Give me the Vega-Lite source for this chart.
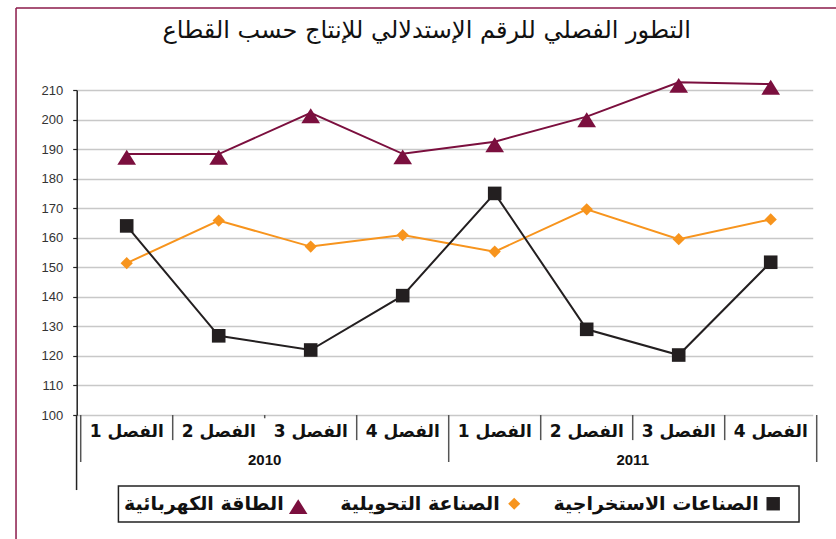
{
  "$schema": "https://vega.github.io/schema/vega-lite/v6.json",
  "width": 736,
  "height": 325,
  "autosize": {"type": "none"},
  "padding": {"left": 80.7, "top": 90, "right": 19.3, "bottom": 124},
  "background": "white",
  "title": {
    "text": "التطور الفصلي للرقم الإستدلالي للإنتاج حسب القطاع",
    "font": "DejaVu Sans",
    "fontSize": 24,
    "fontWeight": "normal",
    "color": "#111111",
    "anchor": "middle",
    "dx": -22,
    "offset": -36
  },
  "config": {
    "view": {"stroke": null},
    "axisY": {
      "domain": true,
      "domainColor": "#222222",
      "domainWidth": 1.5,
      "tickColor": "#222222",
      "tickSize": 4,
      "tickWidth": 1.2,
      "labelFont": "Liberation Sans",
      "labelFontSize": 13,
      "labelColor": "#333333",
      "labelPadding": 10,
      "gridColor": "#c8c8c8",
      "gridWidth": 1.5,
      "offset": 4
    },
    "axisX": {
      "domain": false,
      "ticks": false,
      "grid": false,
      "labelFont": "DejaVu Sans",
      "labelFontSize": 17,
      "labelFontWeight": "bold",
      "labelColor": "#111111",
      "labelPadding": 8,
      "labelAngle": 0
    }
  },
  "data": {
    "values": [
      {"period": "2010-1", "year": "2010", "quarter": "1", "series": "الطاقة الكهربائية", "value": 188.3},
      {"period": "2010-2", "year": "2010", "quarter": "2", "series": "الطاقة الكهربائية", "value": 188.3},
      {"period": "2010-3", "year": "2010", "quarter": "3", "series": "الطاقة الكهربائية", "value": 202.3},
      {"period": "2010-4", "year": "2010", "quarter": "4", "series": "الطاقة الكهربائية", "value": 188.4},
      {"period": "2011-1", "year": "2011", "quarter": "1", "series": "الطاقة الكهربائية", "value": 192.5},
      {"period": "2011-2", "year": "2011", "quarter": "2", "series": "الطاقة الكهربائية", "value": 201.0},
      {"period": "2011-3", "year": "2011", "quarter": "3", "series": "الطاقة الكهربائية", "value": 212.6},
      {"period": "2011-4", "year": "2011", "quarter": "4", "series": "الطاقة الكهربائية", "value": 212.0},
      {"period": "2010-1", "year": "2010", "quarter": "1", "series": "الصناعة التحويلية", "value": 151.4},
      {"period": "2010-2", "year": "2010", "quarter": "2", "series": "الصناعة التحويلية", "value": 165.8},
      {"period": "2010-3", "year": "2010", "quarter": "3", "series": "الصناعة التحويلية", "value": 157.0},
      {"period": "2010-4", "year": "2010", "quarter": "4", "series": "الصناعة التحويلية", "value": 160.9},
      {"period": "2011-1", "year": "2011", "quarter": "1", "series": "الصناعة التحويلية", "value": 155.3},
      {"period": "2011-2", "year": "2011", "quarter": "2", "series": "الصناعة التحويلية", "value": 169.6},
      {"period": "2011-3", "year": "2011", "quarter": "3", "series": "الصناعة التحويلية", "value": 159.5},
      {"period": "2011-4", "year": "2011", "quarter": "4", "series": "الصناعة التحويلية", "value": 166.2},
      {"period": "2010-1", "year": "2010", "quarter": "1", "series": "الصناعات الاستخراجية", "value": 164.0},
      {"period": "2010-2", "year": "2010", "quarter": "2", "series": "الصناعات الاستخراجية", "value": 126.8},
      {"period": "2010-3", "year": "2010", "quarter": "3", "series": "الصناعات الاستخراجية", "value": 122.0},
      {"period": "2010-4", "year": "2010", "quarter": "4", "series": "الصناعات الاستخراجية", "value": 140.4},
      {"period": "2011-1", "year": "2011", "quarter": "1", "series": "الصناعات الاستخراجية", "value": 175.0},
      {"period": "2011-2", "year": "2011", "quarter": "2", "series": "الصناعات الاستخراجية", "value": 129.0},
      {"period": "2011-3", "year": "2011", "quarter": "3", "series": "الصناعات الاستخراجية", "value": 120.3},
      {"period": "2011-4", "year": "2011", "quarter": "4", "series": "الصناعات الاستخراجية", "value": 151.7}
    ]
  },
  "layer": [
    {
      "transform": [{"filter": "datum.series == 'الطاقة الكهربائية'"}],
      "mark": {"type": "line", "strokeWidth": 2, "color": "#7b0f3e"},
      "encoding": {
        "x": {"field": "period", "type": "nominal", "title": null, "scale": {"paddingInner": 0, "paddingOuter": 0}, "axis": {"labelExpr": "'الفصل ' + split(datum.value, '-')[1]", "labelBaseline": "top"}},
        "y": {"field": "value", "type": "quantitative", "title": null, "scale": {"domain": [100, 210], "nice": false, "zero": false}, "axis": {"values": [100, 110, 120, 130, 140, 150, 160, 170, 180, 190, 200, 210]}}
      }
    },
    {
      "transform": [{"filter": "datum.series == 'الصناعة التحويلية'"}],
      "mark": {"type": "line", "strokeWidth": 2, "color": "#f7941d"},
      "encoding": {
        "x": {"field": "period", "type": "nominal", "title": null},
        "y": {"field": "value", "type": "quantitative", "title": null, "scale": {"domain": [100, 210], "nice": false, "zero": false}, "axis": {"values": [100, 110, 120, 130, 140, 150, 160, 170, 180, 190, 200, 210]}}
      }
    },
    {
      "transform": [{"filter": "datum.series == 'الصناعات الاستخراجية'"}],
      "mark": {"type": "line", "strokeWidth": 2, "color": "#231f20"},
      "encoding": {
        "x": {"field": "period", "type": "nominal", "title": null},
        "y": {"field": "value", "type": "quantitative", "title": null, "scale": {"domain": [100, 210], "nice": false, "zero": false}, "axis": {"values": [100, 110, 120, 130, 140, 150, 160, 170, 180, 190, 200, 210]}}
      }
    },
    {
      "mark": {"type": "point", "filled": true, "opacity": 1, "size": 185},
      "encoding": {
        "x": {"field": "period", "type": "nominal", "title": null},
        "y": {"field": "value", "type": "quantitative", "title": null, "scale": {"domain": [100, 210], "nice": false, "zero": false}, "axis": {"values": [100, 110, 120, 130, 140, 150, 160, 170, 180, 190, 200, 210]}},
        "color": {"field": "series", "type": "nominal", "scale": {"domain": ["الطاقة الكهربائية", "الصناعة التحويلية", "الصناعات الاستخراجية"], "range": ["#7b0f3e", "#f7941d", "#231f20"]},
          "legend": {"title": null, "orient": "none", "legendX": 208, "legendY": 404, "direction": "horizontal", "columns": 3, "strokeColor": null, "padding": 0, "labelFont": "DejaVu Sans", "labelFontSize": 19, "labelFontWeight": "bold", "labelColor": "#111111", "labelLimit": 400, "symbolSize": 180, "symbolStrokeWidth": 0, "labelAlign": "right", "labelOffset": -24, "columnPadding": 32}},
        "shape": {"field": "series", "type": "nominal", "scale": {"domain": ["الطاقة الكهربائية", "الصناعة التحويلية", "الصناعات الاستخراجية"], "range": ["M0,-0.65L1.375,1.55L-1.375,1.55Z", "M0,-0.9L0.9,0L0,0.9L-0.9,0Z", "square"]},
          "legend": {"title": null, "orient": "none", "legendX": 208, "legendY": 404, "direction": "horizontal", "columns": 3, "strokeColor": null, "padding": 0, "labelFont": "DejaVu Sans", "labelFontSize": 19, "labelFontWeight": "bold", "labelColor": "#111111", "labelLimit": 400, "symbolSize": 180, "symbolStrokeWidth": 0, "labelAlign": "right", "labelOffset": -24, "columnPadding": 32}}
      }
    },
    {
      "transform": [{"filter": "datum.series == 'الطاقة الكهربائية' && (datum.quarter == '2' || datum.quarter == '4' || datum.period == '2011-3')"}],
      "mark": {"type": "rule", "color": "#555555", "strokeWidth": 1.5},
      "encoding": {
        "x": {"field": "period", "type": "nominal", "title": null, "bandPosition": 0},
        "y": {"datum": 100, "scale": {"domain": [100, 210], "nice": false, "zero": false}, "axis": {"values": [100, 110, 120, 130, 140, 150, 160, 170, 180, 190, 200, 210]}},
        "y2": {"datum": 91.5}
      }
    },
    {
      "transform": [{"filter": "datum.series == 'الطاقة الكهربائية' && datum.period == '2010-3'"}],
      "mark": {"type": "rule", "color": "#555555", "strokeWidth": 1.5},
      "encoding": {
        "x": {"field": "period", "type": "nominal", "title": null, "bandPosition": 0},
        "y": {"datum": 100, "scale": {"domain": [100, 210], "nice": false, "zero": false}, "axis": {"values": [100, 110, 120, 130, 140, 150, 160, 170, 180, 190, 200, 210]}},
        "y2": {"datum": 98.9}
      }
    },
    {
      "transform": [{"filter": "datum.series == 'الطاقة الكهربائية' && datum.quarter == '1'"}],
      "mark": {"type": "rule", "color": "#555555", "strokeWidth": 1.5},
      "encoding": {
        "x": {"field": "period", "type": "nominal", "title": null, "bandPosition": 0},
        "y": {"datum": 100, "scale": {"domain": [100, 210], "nice": false, "zero": false}, "axis": {"values": [100, 110, 120, 130, 140, 150, 160, 170, 180, 190, 200, 210]}},
        "y2": {"datum": 84.1}
      }
    },
    {
      "transform": [{"filter": "datum.series == 'الطاقة الكهربائية' && datum.period == '2011-4'"}],
      "mark": {"type": "rule", "color": "#555555", "strokeWidth": 1.5},
      "encoding": {
        "x": {"field": "period", "type": "nominal", "title": null, "bandPosition": 1},
        "y": {"datum": 100, "scale": {"domain": [100, 210], "nice": false, "zero": false}, "axis": {"values": [100, 110, 120, 130, 140, 150, 160, 170, 180, 190, 200, 210]}},
        "y2": {"datum": 84.1}
      }
    },
    {
      "transform": [{"filter": "datum.series == 'الطاقة الكهربائية' && datum.quarter == '2'"}],
      "mark": {"type": "text", "font": "Liberation Sans", "fontSize": 15, "fontWeight": "bold", "color": "#111111", "baseline": "middle", "align": "center"},
      "encoding": {
        "x": {"field": "period", "type": "nominal", "title": null, "bandPosition": 1},
        "y": {"datum": 84.8, "scale": {"domain": [100, 210], "nice": false, "zero": false}, "axis": {"values": [100, 110, 120, 130, 140, 150, 160, 170, 180, 190, 200, 210]}},
        "text": {"field": "year"}
      }
    },
    {
      "data": {"values": [{}]},
      "mark": {"type": "rule", "color": "#222222", "strokeWidth": 1.5},
      "encoding": {
        "x": {"datum": "2010-1", "bandPosition": -0.045},
        "y": {"datum": 100, "scale": {"domain": [100, 210], "nice": false, "zero": false}, "axis": {"values": [100, 110, 120, 130, 140, 150, 160, 170, 180, 190, 200, 210]}},
        "y2": {"datum": 74.6}
      }
    },
    {
      "data": {"values": [{}]},
      "mark": {"type": "rect", "filled": false, "color": "#222222", "strokeWidth": 1.5},
      "encoding": {
        "x": {"datum": "2010-1", "bandPosition": 0.41},
        "x2": {"datum": "2011-4", "bandPosition": 0.808},
        "y": {"datum": 75.97, "scale": {"domain": [100, 210], "nice": false, "zero": false}, "axis": {"values": [100, 110, 120, 130, 140, 150, 160, 170, 180, 190, 200, 210]}},
        "y2": {"datum": 63.79}
      }
    },
    {
      "data": {"values": [{}]},
      "mark": {"type": "rule", "color": "#8b1a4a", "strokeWidth": 1.5},
      "encoding": {
        "x": {"datum": "2010-1", "bandPosition": -0.703},
        "y": {"datum": 237.75, "scale": {"domain": [100, 210], "nice": false, "zero": false}, "axis": {"values": [100, 110, 120, 130, 140, 150, 160, 170, 180, 190, 200, 210]}},
        "y2": {"datum": 58}
      }
    },
    {
      "data": {"values": [{}]},
      "mark": {"type": "rule", "color": "#8b1a4a", "strokeWidth": 1.5},
      "encoding": {
        "x": {"datum": "2010-1", "bandPosition": -0.703},
        "x2": {"datum": "2011-4", "bandPosition": 1.22},
        "y": {"datum": 237.75, "scale": {"domain": [100, 210], "nice": false, "zero": false}, "axis": {"values": [100, 110, 120, 130, 140, 150, 160, 170, 180, 190, 200, 210]}}
      }
    }
  ]
}
